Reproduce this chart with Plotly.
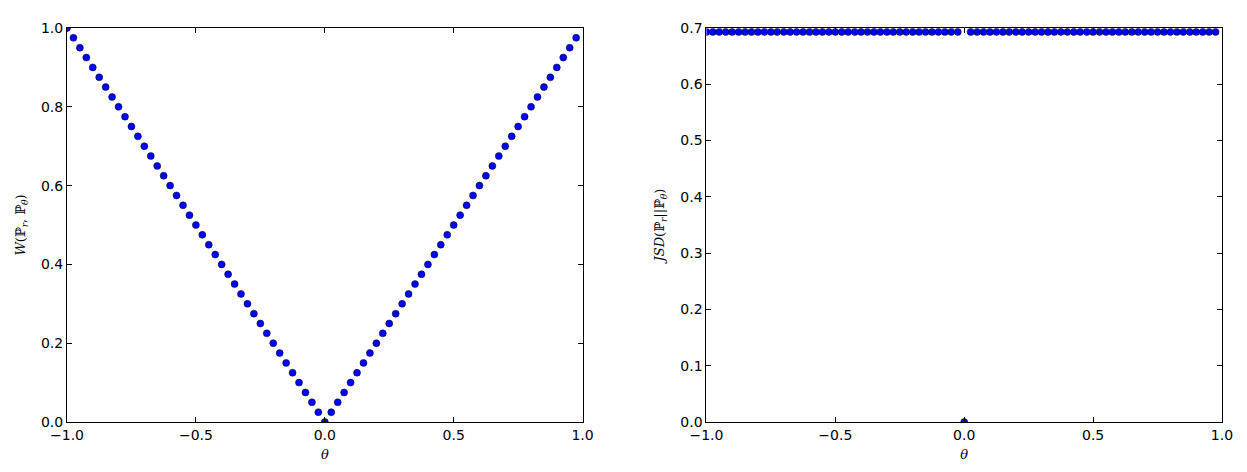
import plotly.graph_objects as go
from plotly.subplots import make_subplots

theta = [-1.0, -0.975, -0.95, -0.925, -0.9, -0.875, -0.85, -0.825, -0.8, -0.775,
         -0.75, -0.725, -0.7, -0.675, -0.65, -0.625, -0.6, -0.575, -0.55, -0.525,
         -0.5, -0.475, -0.45, -0.425, -0.4, -0.375, -0.35, -0.325, -0.3, -0.275,
         -0.25, -0.225, -0.2, -0.175, -0.15, -0.125, -0.1, -0.075, -0.05, -0.025,
         0.0, 0.025, 0.05, 0.075, 0.1, 0.125, 0.15, 0.175, 0.2, 0.225,
         0.25, 0.275, 0.3, 0.325, 0.35, 0.375, 0.4, 0.425, 0.45, 0.475,
         0.5, 0.525, 0.55, 0.575, 0.6, 0.625, 0.65, 0.675, 0.7, 0.725,
         0.75, 0.775, 0.8, 0.825, 0.85, 0.875, 0.9, 0.925, 0.95, 0.975]

w_dist = [1.0, 0.975, 0.95, 0.925, 0.9, 0.875, 0.85, 0.825, 0.8, 0.775,
          0.75, 0.725, 0.7, 0.675, 0.65, 0.625, 0.6, 0.575, 0.55, 0.525,
          0.5, 0.475, 0.45, 0.425, 0.4, 0.375, 0.35, 0.325, 0.3, 0.275,
          0.25, 0.225, 0.2, 0.175, 0.15, 0.125, 0.1, 0.075, 0.05, 0.025,
          0.0, 0.025, 0.05, 0.075, 0.1, 0.125, 0.15, 0.175, 0.2, 0.225,
          0.25, 0.275, 0.3, 0.325, 0.35, 0.375, 0.4, 0.425, 0.45, 0.475,
          0.5, 0.525, 0.55, 0.575, 0.6, 0.625, 0.65, 0.675, 0.7, 0.725,
          0.75, 0.775, 0.8, 0.825, 0.85, 0.875, 0.9, 0.925, 0.95, 0.975]

jsd = [0.693, 0.693, 0.693, 0.693, 0.693, 0.693, 0.693, 0.693, 0.693, 0.693,
       0.693, 0.693, 0.693, 0.693, 0.693, 0.693, 0.693, 0.693, 0.693, 0.693,
       0.693, 0.693, 0.693, 0.693, 0.693, 0.693, 0.693, 0.693, 0.693, 0.693,
       0.693, 0.693, 0.693, 0.693, 0.693, 0.693, 0.693, 0.693, 0.693, 0.693,
       0.0, 0.693, 0.693, 0.693, 0.693, 0.693, 0.693, 0.693, 0.693, 0.693,
       0.693, 0.693, 0.693, 0.693, 0.693, 0.693, 0.693, 0.693, 0.693, 0.693,
       0.693, 0.693, 0.693, 0.693, 0.693, 0.693, 0.693, 0.693, 0.693, 0.693,
       0.693, 0.693, 0.693, 0.693, 0.693, 0.693, 0.693, 0.693, 0.693, 0.693]

x_ticks = [-1.0, -0.5, 0.0, 0.5, 1.0]
w_ticks = [0.0, 0.2, 0.4, 0.6, 0.8, 1.0]
jsd_ticks = [0.0, 0.1, 0.2, 0.3, 0.4, 0.5, 0.6, 0.7]

fig = make_subplots(rows=1, cols=2, horizontal_spacing=0.1072)

marker = dict(color="#0000ff", size=7, line=dict(color="#000000", width=0.5))
fig.add_trace(go.Scatter(x=theta, y=w_dist, mode="markers", marker=marker,
                         showlegend=False), row=1, col=1)
fig.add_trace(go.Scatter(x=theta, y=jsd, mode="markers", marker=marker,
                         showlegend=False), row=1, col=2)

axis_common = dict(showline=True, linecolor="#000000", linewidth=1, mirror="ticks",
                   ticks="inside", ticklen=5, tickcolor="#000000", tickwidth=1,
                   showgrid=False, zeroline=False,
                   tickfont=dict(family="DejaVu Sans", size=14, color="#000000"))

title_font = dict(family="DejaVu Serif", size=13, color="#000000")

fig.update_xaxes(range=[-1.0, 1.0], tickvals=x_ticks,
                 ticktext=["\u22121.0", "\u22120.5", "0.0", "0.5", "1.0"],
                 title=dict(text="<i>θ</i>", font=title_font, standoff=8),
                 **axis_common)
fig.update_yaxes(range=[0.0, 1.0], tickvals=w_ticks,
                 ticktext=["0.0", "0.2", "0.4", "0.6", "0.8", "1.0"],
                 title=dict(text="<i>W</i>(ℙ<sub><i>r</i></sub>, ℙ<sub><i>θ</i></sub>)",
                            font=title_font, standoff=12),
                 row=1, col=1, **axis_common)
fig.update_yaxes(range=[0.0, 0.7], tickvals=jsd_ticks,
                 ticktext=["0.0", "0.1", "0.2", "0.3", "0.4", "0.5", "0.6", "0.7"],
                 title=dict(text="<i>JSD</i>(ℙ<sub><i>r</i></sub>||ℙ<sub><i>θ</i></sub>)",
                            font=title_font, standoff=12),
                 row=1, col=2, **axis_common)

fig.update_layout(width=1239, height=464, plot_bgcolor="#ffffff", paper_bgcolor="#ffffff",
                  margin=dict(l=58, r=25, t=16, b=48))

fig.write_html("out.html")
